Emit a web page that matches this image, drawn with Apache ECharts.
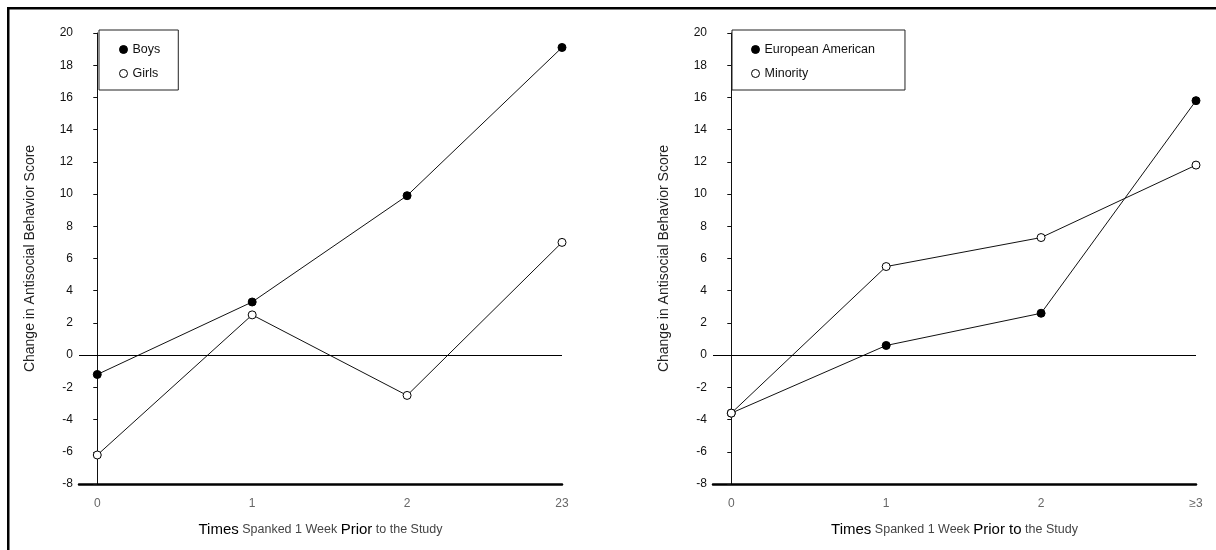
<!DOCTYPE html>
<html>
<head>
<meta charset="utf-8">
<script src="https://cdn.jsdelivr.net/npm/echarts@6/dist/echarts.min.js"></script>
<style>
html,body{margin:0;padding:0;background:#fff;}
#chart{width:1216px;height:550px;}
</style>
</head>
<body>
<div id="chart"></div>
<script>
// ---- data ----
const xValues = [0, 1, 2, 3];
const leftTickLabels = ["0", "1", "2", "23"];
const rightTickLabels = ["0", "1", "2", "≥3"];
const boys = [-1.2, 3.3, 9.9, 19.1];
const girls = [-6.2, 2.5, -2.5, 7.0];
const europeanAmerican = [-3.6, 0.6, 2.6, 15.8];
const minority = [-3.6, 5.5, 7.3, 11.8];

const FONT = '"Liberation Sans", Arial, sans-serif';

function pairs(vals) { return xValues.map((x, i) => [x, vals[i]]); }

function yAxis(gi) {
  return {
    type: 'value', gridIndex: gi, min: -8, max: 20, interval: 2,
    name: 'Change in Antisocial Behavior Score',
    nameLocation: 'middle', nameRotate: 90, nameGap: 42,
    nameTextStyle: { fontFamily: FONT, fontSize: 14, color: '#222' },
    axisLine: { show: true, lineStyle: { color: '#111', width: 1 } },
    axisTick: { show: true, length: 4, lineStyle: { color: '#111' } },
    axisLabel: { fontFamily: FONT, fontSize: 12, color: '#111', margin: 6 },
    splitLine: { show: false }
  };
}

function xAxis(gi, labels, richName) {
  return {
    type: 'value', gridIndex: gi, min: -0.118, max: 3,
    name: richName,
    nameLocation: 'middle', nameGap: 38,
    nameTextStyle: {
      fontFamily: FONT, fontSize: 12.5, color: '#444',
      rich: {
        b: { fontFamily: FONT, fontSize: 15, color: '#000' },
        n: { fontFamily: FONT, fontSize: 12.5, color: '#444' }
      }
    },
    axisLine: { show: true, onZero: false, lineStyle: { color: '#000', width: 2.5 } },
    axisTick: { show: false },
    splitLine: { show: false },
    axisLabel: {
      customValues: xValues,
      fontFamily: FONT, fontSize: 12, color: '#666', margin: 14,
      formatter: v => labels[Math.round(v)]
    }
  };
}

function series(name, vals, xi, filled, withZero) {
  const s = {
    name, type: 'line', xAxisIndex: xi, yAxisIndex: xi,
    data: pairs(vals),
    symbol: 'circle', symbolSize: 8,
    clip: false,
    lineStyle: { color: '#111', width: 1 },
    itemStyle: filled ? { color: '#000', borderColor: '#000', borderWidth: 1 }
                      : { color: '#fff', borderColor: '#000', borderWidth: 1 },
    emphasis: { disabled: true },
    animation: false
  };
  if (withZero) {
    s.markLine = {
      silent: true, symbol: ['none', 'none'], label: { show: false },
      lineStyle: { color: '#000', width: 1, type: 'solid' },
      data: [{ yAxis: 0 }],
      animation: false
    };
  }
  return s;
}

function legend(names, left, pad) {
  return {
    data: names, orient: 'vertical', left: left, top: 30,
    padding: pad, itemGap: 11, itemWidth: 8, itemHeight: 8,
    borderColor: '#222', borderWidth: 1, backgroundColor: '#fff',
    icon: 'circle',
    itemStyle: { borderWidth: 1 },
    textStyle: { fontFamily: FONT, fontSize: 12.5, color: '#111' },
    selectedMode: false
  };
}

const chart = echarts.init(document.getElementById('chart'), null, { renderer: 'canvas' });
chart.setOption({
  animation: false,
  backgroundColor: '#fff',
  grid: [
    { left: 79, right: 1216 - 562, top: 33, bottom: 66 },
    { left: 713, right: 20, top: 33, bottom: 66 }
  ],
  xAxis: [
    xAxis(0, leftTickLabels, '{b|Times} {n|Spanked 1 Week} {b|Prior} {n|to the Study}'),
    xAxis(1, rightTickLabels, '{b|Times} {n|Spanked 1 Week} {b|Prior to} {n|the Study}')
  ],
  yAxis: [yAxis(0), yAxis(1)],
  legend: [
    legend(['Boys', 'Girls'], 99, [13, 18, 10, 20]),
    legend(['European American', 'Minority'], 732, [13, 30, 10, 19])
  ],
  series: [
    series('Boys', boys, 0, true, true),
    series('Girls', girls, 0, false, false),
    series('European American', europeanAmerican, 1, true, true),
    series('Minority', minority, 1, false, false)
  ],
  graphic: [
    { type: 'rect', shape: { x: 7, y: 7, width: 1209, height: 2.5 }, style: { fill: '#000' }, silent: true },
    { type: 'rect', shape: { x: 7, y: 7, width: 2.5, height: 543 }, style: { fill: '#000' }, silent: true }
  ]
});
</script>
</body>
</html>
